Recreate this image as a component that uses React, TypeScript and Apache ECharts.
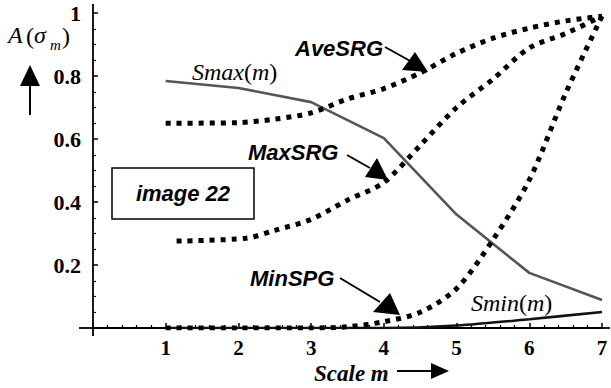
import React, { useEffect, useRef } from "react";
import * as echarts from "echarts";

const xTicks = [0, 1, 2, 3, 4, 5, 6, 7];
const yTicks = [0, 0.2, 0.4, 0.6, 0.8, 1];

const smax: [number, number][] = [[1, 0.784], [2, 0.762], [3, 0.717], [4, 0.603], [5, 0.36], [6, 0.175], [7, 0.089]];
const smin: [number, number][] = [[1, 0], [2, 0], [3, 0], [4, 0], [5, 0.008], [6, 0.028], [7, 0.051]];
const aveSRG: [number, number][] = [[1, 0.65], [2, 0.652], [2.5, 0.663], [3, 0.683], [3.5, 0.727], [4, 0.76], [4.5, 0.81], [5, 0.872], [5.5, 0.92], [6, 0.952], [6.5, 0.975], [7, 0.99]];
const maxSRG: [number, number][] = [[1.15, 0.276], [2.1, 0.285], [2.5, 0.31], [3, 0.345], [3.5, 0.406], [4, 0.462], [4.5, 0.58], [5, 0.7], [5.5, 0.79], [6, 0.889], [6.5, 0.935], [7, 0.99]];
const minSPG: [number, number][] = [[1, 0], [2, 0], [3, 0], [3.5, 0.004], [4, 0.02], [4.5, 0.05], [5, 0.125], [5.5, 0.28], [6, 0.47], [6.5, 0.745], [7, 0.99]];

const SERIF = "Liberation Serif";
const SANS = "Liberation Sans";

function txt(
  text: string,
  x: number,
  y: number,
  family: string,
  size: number,
  italic: boolean,
  bold: boolean,
  align = "left"
) {
  return {
    type: "text",
    x,
    y,
    style: {
      text,
      fontFamily: family,
      fontSize: size,
      fontStyle: italic ? "italic" : "normal",
      fontWeight: bold ? "bold" : "normal",
      fill: "#000",
      align,
      textAlign: align,
      verticalAlign: "middle",
      textVerticalAlign: "middle",
    },
    z: 100,
  };
}

function fnLabel(name: string, x: number, y: number) {
  return {
    type: "text",
    x,
    y,
    style: {
      text: `{i|${name}}{r|(}{i|m}{r|)}`,
      fill: "#000",
      verticalAlign: "middle",
      textVerticalAlign: "middle",
      rich: {
        i: { fontFamily: SERIF, fontSize: 24, fontStyle: "italic", fill: "#000" },
        r: { fontFamily: SERIF, fontSize: 24, fill: "#000" },
      },
    },
    z: 100,
  };
}

function seg(x1: number, y1: number, x2: number, y2: number, w = 2) {
  return { type: "line", shape: { x1, y1, x2, y2 }, style: { stroke: "#000", lineWidth: w }, z: 100 };
}

function tri(pts: number[][]) {
  return { type: "polygon", shape: { points: pts }, style: { fill: "#000" }, z: 100 };
}

const dotted = (data: [number, number][], name: string) => ({
  name,
  type: "line",
  data,
  showSymbol: false,
  smooth: 0.3,
  lineStyle: { color: "#000", width: 5, type: [5, 6], cap: "butt" },
  z: 5,
});

export default function App() {
  const ref = useRef<HTMLDivElement>(null);
  useEffect(() => {
    if (!ref.current) return;
    const chart = echarts.init(ref.current, undefined, { renderer: "svg" });
    const option: any = {
      animation: false,
      backgroundColor: "#fff",
      grid: { left: 93, right: 9, top: 13, bottom: 60 },
      xAxis: {
        type: "value",
        min: xTicks[0],
        max: xTicks[xTicks.length - 1],
        interval: 1,
        axisLine: { onZero: true, lineStyle: { color: "#000", width: 1.8 } },
        axisTick: { inside: true, length: 5, lineStyle: { color: "#000", width: 1.5 } },
        minorTick: { show: true, splitNumber: 5, length: 3, lineStyle: { color: "#000", width: 1.2 } },
        splitLine: { show: false },
        axisLabel: {
          margin: 11,
          color: "#000",
          fontFamily: SERIF,
          fontWeight: "bold",
          fontSize: 21,
          lineHeight: 18,
          formatter: (v: number) => (v === 0 ? "" : String(v)),
        },
      },
      yAxis: {
        type: "value",
        min: yTicks[0],
        max: yTicks[yTicks.length - 1],
        interval: 0.2,
        axisLine: { onZero: true, lineStyle: { color: "#000", width: 1.8 } },
        axisTick: { inside: true, length: 5, lineStyle: { color: "#000", width: 1.5 } },
        minorTick: { show: true, splitNumber: 4, length: 3, lineStyle: { color: "#000", width: 1.2 } },
        splitLine: { show: false },
        axisLabel: {
          margin: 12,
          color: "#000",
          fontFamily: SERIF,
          fontWeight: "bold",
          fontSize: 22,
          padding: [10, 0, 0, 0],
          formatter: (v: number) => (v === 0 ? "" : v === 1 ? "1" : v.toFixed(1)),
        },
      },
      series: [
        {
          name: "Smax(m)",
          type: "line",
          data: smax,
          showSymbol: false,
          lineStyle: { color: "#555", width: 2.6 },
          z: 3,
        },
        {
          name: "Smin(m)",
          type: "line",
          data: smin,
          showSymbol: false,
          smooth: 0.3,
          lineStyle: { color: "#111", width: 2.6 },
          z: 3,
        },
        dotted(aveSRG, "AveSRG"),
        dotted(maxSRG, "MaxSRG"),
        dotted(minSPG, "MinSPG"),
      ],
      graphic: [
        // axis extensions
        seg(93, 4, 93, 13, 1.8),
        seg(93, 328, 93, 336, 1.8),
        seg(79, 328, 93, 328, 1.8),
        seg(602, 328, 610, 328, 1.8),
        // y label A(σm)
        txt("A", 8, 35, SERIF, 24, true, false),
        txt("(", 26, 36, SERIF, 24, false, false),
        txt("σ", 34, 35, SERIF, 24, true, false),
        txt("m", 50, 45, SERIF, 15, true, false),
        txt(")", 62, 36, SERIF, 24, false, false),
        // up arrow
        seg(30, 115, 30, 84, 2),
        tri([[20, 86], [40, 86], [30, 65]]),
        // x title
        txt("Scale m", 314, 373, SERIF, 23, true, true),
        seg(397, 371, 433, 371, 2),
        tri([[431, 363], [431, 379], [449, 371]]),
        // image 22 box
        {
          type: "rect",
          shape: { x: 112, y: 168, width: 142, height: 51 },
          style: { fill: "#fff", stroke: "#000", lineWidth: 1.5 },
          z: 90,
        },
        txt("image 22", 183, 193, SANS, 22, true, true, "center"),
        // annotations
        fnLabel("Smax", 192, 72),
        fnLabel("Smin", 471, 303),
        txt("AveSRG", 295, 48, SANS, 22, true, true),
        seg(385, 47, 412, 62, 2),
        tri([[402, 70], [415, 52], [428, 72]]),
        txt("MaxSRG", 248, 152, SANS, 22, true, true),
        seg(347, 155, 370, 168, 2),
        tri([[365, 177], [377, 158], [388, 180]]),
        txt("MinSPG", 250, 278, SANS, 22, true, true),
        seg(340, 278, 380, 302, 2),
        tri([[373, 312], [390, 293], [400, 315]]),
      ],
    };
    chart.setOption(option);
    return () => chart.dispose();
  }, []);
  return (
    <div
      ref={ref}
      style={{ position: "fixed", left: 0, top: 0, width: 611, height: 388, background: "#fff" }}
    />
  );
}
